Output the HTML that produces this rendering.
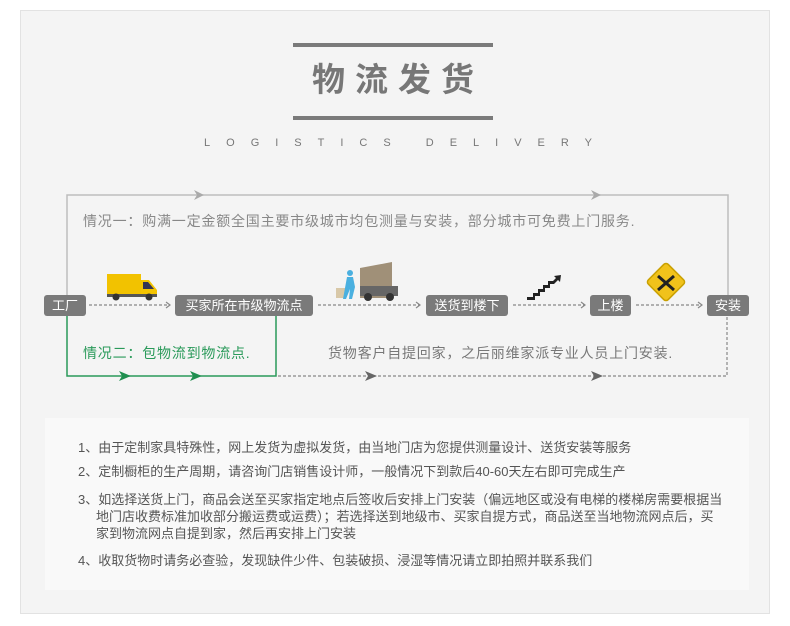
<!DOCTYPE html>
<html><head><meta charset="utf-8"><style>
body{margin:0;width:790px;height:626px;background:#fff;position:relative;font-family:"Liberation Sans","Noto Sans CJK SC",sans-serif;overflow:hidden}
.card{position:absolute;left:20px;top:10px;width:750px;height:604px;background:#f4f4f4;border:1px solid #e2e2e2;box-sizing:border-box}
.a{position:absolute;white-space:nowrap}
.node{position:absolute;height:21px;line-height:21px;background:#7a7a7a;color:#fff;font-size:13px;text-align:center;border-radius:3px}
.notes{position:absolute;left:45px;top:418px;width:704px;height:172px;background:#f9f9f9}
.n{position:absolute;left:33px;font-size:13px;color:#555;line-height:17px}
</style></head><body>
<div class="card"></div>
<div class="a" style="left:293px;top:43px;width:200px;height:4px;background:#7a7a7a"></div>
<div class="a" style="left:293px;top:116px;width:200px;height:4px;background:#7a7a7a"></div>
<div class="a" style="left:293px;top:60px;width:210px;text-align:center;font-size:33px;font-weight:bold;color:#777;letter-spacing:10px;line-height:40px">物流发货</div>
<div class="a" style="left:196px;top:136px;width:420px;text-align:center;font-size:11px;color:#777;letter-spacing:16px;line-height:14px">LOGISTICS DELIVERY</div>

<svg class="a" style="left:0;top:0" width="790" height="626">
<g fill="none" stroke-width="1.5">
<polyline points="67,300 67,195 728,195 728,298" stroke="#bdbdbd"/>
<polyline points="67,316 67,376 276,376 276,316" stroke="#2a9a5a"/>
<g stroke="#888" stroke-dasharray="3,2" stroke-width="1.2">
<line x1="89" y1="305" x2="170" y2="305"/><line x1="318" y1="305" x2="420" y2="305"/>
<line x1="513" y1="305" x2="585" y2="305"/><line x1="636" y1="305" x2="702" y2="305"/>
<polyline points="278,376 727,376 727,316"/>
</g>
<g stroke="#888" stroke-width="1.2">
<polyline points="166,302 170,305 166,308"/><polyline points="416,302 420,305 416,308"/>
<polyline points="581,302 585,305 581,308"/><polyline points="698,302 702,305 698,308"/>
</g>
</g>
<polygon points="194,190 204,195 194,200 197,195" fill="#aaa"/>
<polygon points="591,190 601,195 591,200 594,195" fill="#aaa"/>
<polygon points="119,371 131,376 119,381 122,376" fill="#1f8f4f"/>
<polygon points="190,371 202,376 190,381 193,376" fill="#1f8f4f"/>
<polygon points="365,371 377,376 365,381 368,376" fill="#666"/>
<polygon points="591,371 603,376 591,381 594,376" fill="#666"/>
<rect x="107" y="274" width="34" height="22" fill="#f2c200"/>
<path d="M141 280 h8 l8 10 v6 h-16z" fill="#f4c400"/>
<path d="M143 282 h5 l6 7 h-11z" fill="#335"/>
<rect x="107" y="294" width="50" height="3" fill="#555"/>
<circle cx="116" cy="297" r="3.5" fill="#333"/><circle cx="149" cy="297" r="3.5" fill="#333"/>
<path d="M360 268 l32 -6 v36 h-32z" fill="#a09078"/>
<rect x="360" y="286" width="38" height="10" fill="#666"/>
<circle cx="368" cy="297" r="4" fill="#333"/><circle cx="390" cy="297" r="4" fill="#333"/>
<rect x="336" y="288" width="10" height="10" fill="#d8c8a8"/>
<circle cx="350" cy="273" r="3" fill="#4ab0e0"/><path d="M347 277 h6 l2 10 l-3 12 h-3 l1 -10 l-4 10 h-3z" fill="#4ab0e0"/>
<path d="M527 297 h6 v-4 h5 v-4 h5 v-4 h5 v-4 h5 l3 -3 l-2 -2 l7 -1 l-1 7 l-2 -2 l-4 4 h-4 v4 h-5 v4 h-5 v4 h-5 v4 h-8z" fill="#222"/>
<rect x="652" y="268" width="28" height="28" transform="rotate(45 666 282)" rx="3" fill="#f1c21b" stroke="#c9a000" stroke-width="1.5"/>
<path d="M658 276 l16 14 M674 276 l-16 14" stroke="#222" stroke-width="3"/>
</svg>

<div class="a" style="left:83px;top:211px;font-size:14px;color:#888;letter-spacing:0.8px">情况一：购满一定金额全国主要市级城市均包测量与安装，部分城市可免费上门服务.</div>
<div class="a" style="left:83px;top:343px;font-size:14px;color:#2a9a5a;letter-spacing:0.8px">情况二：包物流到物流点.</div>
<div class="a" style="left:328px;top:343px;font-size:14px;color:#777;letter-spacing:0.8px">货物客户自提回家，之后丽维家派专业人员上门安装.</div>

<div class="node" style="left:44px;top:295px;width:42px">工厂</div>
<div class="node" style="left:175px;top:295px;width:138px">买家所在市级物流点</div>
<div class="node" style="left:426px;top:295px;width:82px">送货到楼下</div>
<div class="node" style="left:590px;top:295px;width:41px">上楼</div>
<div class="node" style="left:707px;top:295px;width:42px">安装</div>

<div class="notes">
<div class="n" style="top:21px">1、由于定制家具特殊性，网上发货为虚拟发货，由当地门店为您提供测量设计、送货安装等服务</div>
<div class="n" style="top:45px">2、定制橱柜的生产周期，请咨询门店销售设计师，一般情况下到款后40-60天左右即可完成生产</div>
<div class="n" style="top:73px">3、如选择送货上门，商品会送至买家指定地点后签收后安排上门安装（偏远地区或没有电梯的楼梯房需要根据当<br>&nbsp;&nbsp;&nbsp;&nbsp;&nbsp;地门店收费标准加收部分搬运费或运费）；若选择送到地级市、买家自提方式，商品送至当地物流网点后，买<br>&nbsp;&nbsp;&nbsp;&nbsp;&nbsp;家到物流网点自提到家，然后再安排上门安装</div>
<div class="n" style="top:134px">4、收取货物时请务必查验，发现缺件少件、包装破损、浸湿等情况请立即拍照并联系我们</div>
</div>
</body></html>
